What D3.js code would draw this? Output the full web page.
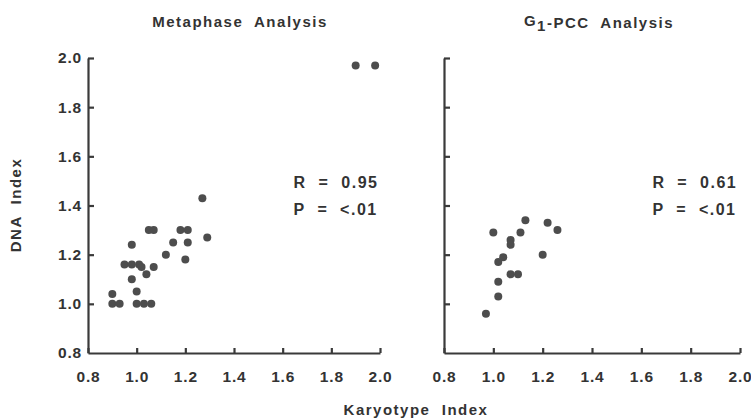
<!DOCTYPE html>
<html lang="en">
<head>
<meta charset="utf-8">
<title>Karyotype vs DNA Index</title>
<script src="https://cdn.jsdelivr.net/npm/d3@7/dist/d3.min.js"></script>
<style>
  body { margin: 0; background: #fff; }
  text { font-family: "Liberation Sans", Arial, sans-serif; font-weight: bold; fill: #333; letter-spacing: 1.5px; white-space: pre; }
  .axis path, .axis line { stroke: #3a3a3a; stroke-width: 2.2; }
  .axis text { font-size: 15.5px; fill: #333; letter-spacing: 0.8px; }
</style>
</head>
<body>
<script>
// Metaphase analysis: karyotype index vs DNA index
var metaKaryo = [0.90, 0.90, 0.93, 0.95, 0.98, 0.98, 0.98, 1.01, 1.00, 1.00, 1.03, 1.06, 1.02, 1.04, 1.05, 1.07, 1.07,
                 1.12, 1.15, 1.18, 1.21, 1.21, 1.20, 1.27, 1.29, 1.90, 1.98];
var metaDNA   = [1.04, 1.00, 1.00, 1.16, 1.24, 1.16, 1.10, 1.16, 1.05, 1.00, 1.00, 1.00, 1.15, 1.12, 1.30, 1.30, 1.15,
                 1.20, 1.25, 1.30, 1.30, 1.25, 1.18, 1.43, 1.27, 1.97, 1.97];
// G1-PCC analysis
var pccKaryo = [0.97, 1.02, 1.02, 1.02, 1.04, 1.00, 1.07, 1.07, 1.07, 1.10, 1.11, 1.13, 1.20, 1.22, 1.26];
var pccDNA   = [0.96, 1.03, 1.09, 1.17, 1.19, 1.29, 1.26, 1.24, 1.12, 1.12, 1.29, 1.34, 1.20, 1.33, 1.30];

var tickVals = [0.8, 1.0, 1.2, 1.4, 1.6, 1.8, 2.0];
var stats = [["R  =  0.95", "P  =  <.01"], ["R  =  0.61", "P  =  <.01"]];

var w = 751, h = 420;
var svg = d3.select("body").append("svg").attr("width", w).attr("height", h);

var y = d3.scaleLinear().domain([0.8, 2.0]).range([353, 58]);

function panel(x0, x1, xs, ys, showYLabels, st) {
  var x = d3.scaleLinear().domain([0.8, 2.0]).range([x0, x1]);

  var yAxis = d3.axisLeft(y).tickValues(tickVals.slice(1)).tickSize(-6).tickSizeOuter(0)
    .tickPadding(6).tickFormat(showYLabels ? d3.format(".1f") : "");
  svg.append("g").attr("class", "axis").attr("transform", "translate(" + x0 + ",0)").call(yAxis);
  if (showYLabels) {
    svg.append("text").attr("x", x0 - 6).attr("y", y(0.8)).attr("dy", "0.32em")
      .attr("text-anchor", "end").style("font-size", "15.5px").style("letter-spacing", "0.8px").text("0.8");
  }

  var xAxis = d3.axisBottom(x).tickValues(tickVals).tickSize(-5).tickSizeOuter(0)
    .tickPadding(18).tickFormat(d3.format(".1f"));
  svg.append("g").attr("class", "axis").attr("transform", "translate(0," + y(0.8) + ")").call(xAxis);

  svg.append("g").selectAll("circle")
    .data(xs)
    .enter()
    .append("circle")
    .attr("cx", function(d) { return x(d); })
    .attr("cy", function(d, i) { return y(ys[i]); })
    .attr("r", 4)
    .attr("fill", "#4d4d4d");

  svg.append("text").attr("x", x(1.645)).attr("y", y(1.47)).style("font-size", "16px").text(st[0]);
  svg.append("text").attr("x", x(1.645)).attr("y", y(1.36)).style("font-size", "16px").text(st[1]);
  return x;
}

var xL = panel(88, 380, metaKaryo, metaDNA, true, stats[0]);
var xR = panel(444, 740, pccKaryo, pccDNA, false, stats[1]);

// the last x label on the right panel sits at the page edge
svg.selectAll(".axis .tick text").filter(function(d, i, n) { return false; });

// titles
svg.append("text").attr("x", 240).attr("y", 27).attr("text-anchor", "middle")
  .style("font-size", "15px").text("Metaphase  Analysis");

var t2 = svg.append("text").attr("x", 599).attr("y", 28).attr("text-anchor", "middle").style("font-size", "15px");
t2.append("tspan").attr("dy", -2).text("G");
t2.append("tspan").attr("dy", 5).text("1");
t2.append("tspan").attr("dy", -3).text("-PCC  Analysis");

// axis titles
svg.append("text").attr("transform", "translate(21,205) rotate(-90)").attr("text-anchor", "middle")
  .style("font-size", "15px").text("DNA  Index");
svg.append("text").attr("x", 416).attr("y", 415).attr("text-anchor", "middle")
  .style("font-size", "15px").text("Karyotype  Index");
</script>
</body>
</html>
